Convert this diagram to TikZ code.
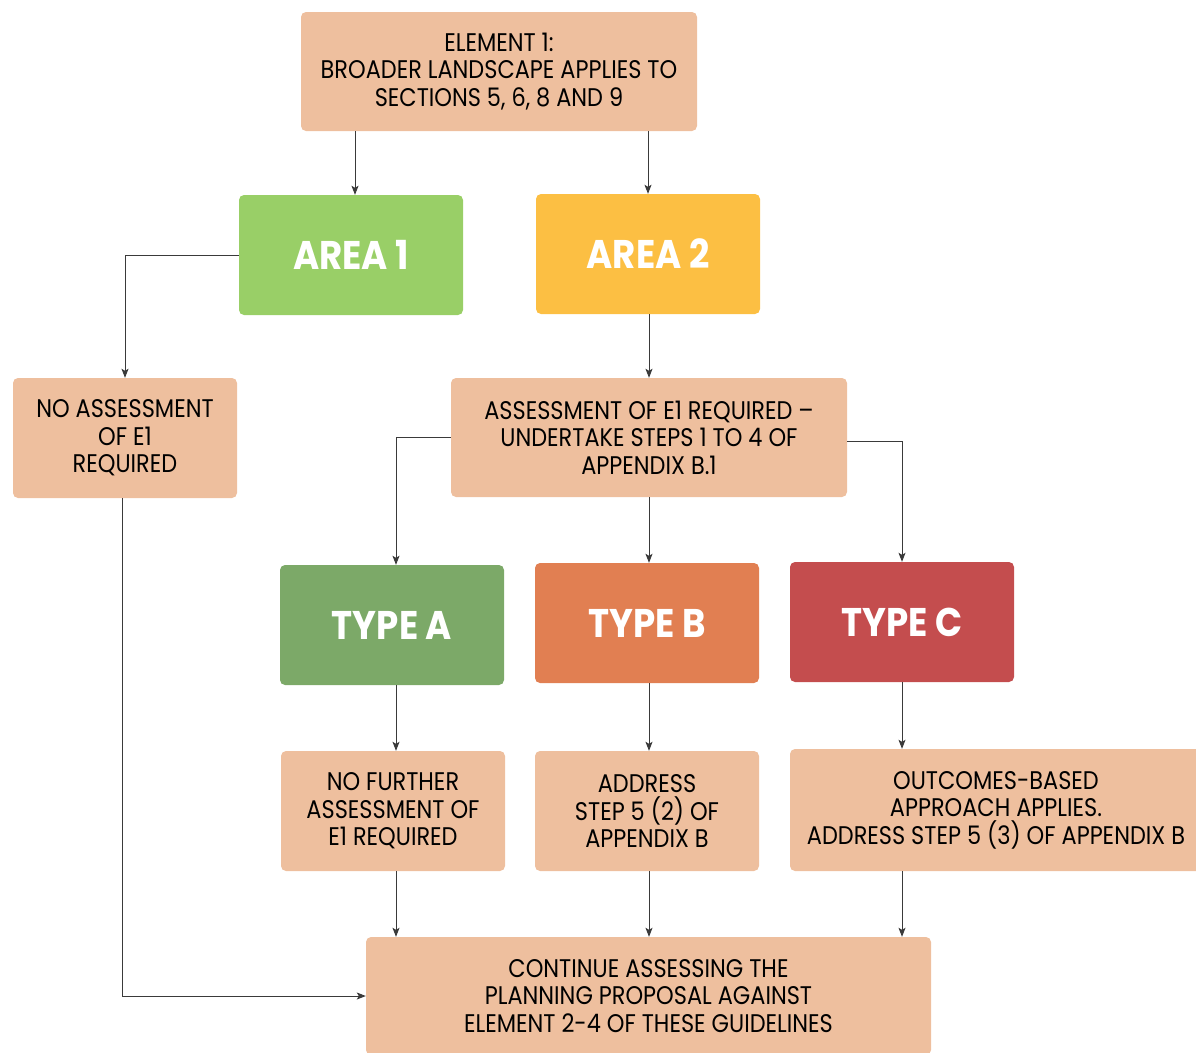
\documentclass[tikz,border=0pt]{standalone}
\usepackage{fontspec}
\setmainfont{Poppins}[FakeStretch=0.88]
\newfontfamily\headf{Poppins}[FakeStretch=0.89]
\usetikzlibrary{arrows.meta}
\definecolor{peach}{HTML}{EEBF9E}
\definecolor{areaone}{HTML}{99CF67}
\definecolor{areatwo}{HTML}{FCBF43}
\definecolor{typea}{HTML}{7CA968}
\definecolor{typeb}{HTML}{E17F52}
\definecolor{typec}{HTML}{C44D4E}
\definecolor{linec}{HTML}{3A3A3A}
\tikzset{
  box/.style={rounded corners=5pt, inner sep=0pt, align=center, text=black,
    font=\fontsize{25.5}{27.5}\selectfont},
  infobox/.style={box, fill=peach},
  headbox/.style={box, text=white, font=\headf\bfseries\fontsize{40}{42}\selectfont},
  conn/.style={draw=linec, line width=0.9pt, -{Stealth[length=9pt,width=7pt,inset=2pt]}},
}
\begin{document}
\begin{tikzpicture}[x=1pt,y=-1pt]
\useasboundingbox (0,0) rectangle (1196,1052);
\begin{scope}
\clip (0,0) rectangle (1196,1052);
\node[infobox, minimum width=396pt, minimum height=119pt] (e1) at (499,71.5)
  {ELEMENT 1:\\BROADER LANDSCAPE APPLIES TO\\SECTIONS 5, 6, 8 AND 9};
\node[headbox, fill=areaone, minimum width=224pt, minimum height=120pt] (a1) at (351,255) {AREA 1};
\node[headbox, fill=areatwo, minimum width=224pt, minimum height=120pt] (a2) at (648,254) {AREA 2};
\node[infobox, minimum width=224pt, minimum height=120pt] (na) at (125,438)
  {NO ASSESSMENT\\OF E1\\REQUIRED};
\node[infobox, minimum width=396pt, minimum height=119pt] (ar) at (649,437.5)
  {ASSESSMENT OF E1 REQUIRED --\\UNDERTAKE STEPS 1 TO 4 OF\\APPENDIX B.1};
\node[headbox, fill=typea, minimum width=224pt, minimum height=120pt] (ta) at (392,625) {TYPE A};
\node[headbox, fill=typeb, minimum width=224pt, minimum height=120pt] (tb) at (647,623) {TYPE B};
\node[headbox, fill=typec, minimum width=224pt, minimum height=120pt] (tc) at (902,622) {TYPE C};
\node[infobox, minimum width=224pt, minimum height=120pt] (nf) at (393,811)
  {NO FURTHER\\ASSESSMENT OF\\E1 REQUIRED};
\node[infobox, minimum width=224pt, minimum height=120pt] (ad) at (647,811)
  {ADDRESS\\STEP 5 (2) OF\\APPENDIX B};
\node[infobox, minimum width=412pt, minimum height=122pt] (oc) at (996,810)
  {OUTCOMES-BASED\\APPROACH APPLIES.\\ADDRESS STEP 5 (3) OF APPENDIX B};
\node[infobox, minimum width=565pt, minimum height=118pt] (co) at (648.5,996)
  {CONTINUE ASSESSING THE\\PLANNING PROPOSAL AGAINST\\ELEMENT 2-4 OF THESE GUIDELINES};
\end{scope}
% connectors
\draw[conn] ([xshift=4pt]e1.south -| a1.north) -- ([xshift=4pt]a1.north);
\draw[conn] (e1.south -| a2.north) -- (a2.north);
\draw[conn] (a1.west) -| (na.north);
\draw[conn] (ar.north |- a2.south) -- (ar.north);
\draw[conn] (ar.west) -| ([xshift=4pt]ta.north);
\draw[conn] (ar.south) -- (ar.south |- tb.north);
\draw[conn] ([yshift=-3.5pt]ar.east) -| (tc.north);
\draw[conn] ([xshift=4pt]ta.south) -- ([xshift=4pt]ta.south |- nf.north);
\draw[conn] (ar.south |- tb.south) -- (ar.south |- ad.north);
\draw[conn] (tc.south) -- (tc.south |- oc.north);
\draw[conn] ([xshift=3pt]nf.south) -- ([xshift=3pt]nf.south |- co.north);
\draw[conn] (ar.south |- ad.south) -- (ar.south |- co.north);
\draw[conn] (oc.south -| tc.south) -- (co.north -| tc.south);
\draw[conn] ([xshift=-3pt]na.south) |- (co.west);
\end{tikzpicture}
\end{document}
